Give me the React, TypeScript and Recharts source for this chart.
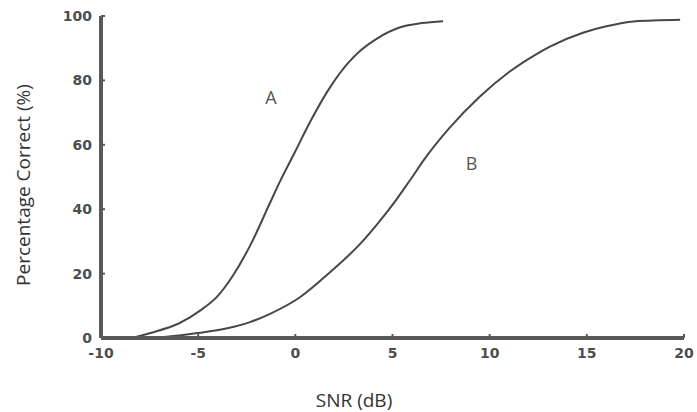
import React from 'react';
import { LineChart, Line, XAxis, YAxis, ReferenceDot } from 'recharts';

// Psychometric curves: percentage correct vs signal-to-noise ratio
const snrA = [-8.4, -7.5, -6, -4.9, -4, -3.2, -2.3, -1.3, -0.8, 0, 0.75, 1.8, 2.8, 3.3, 4.2, 5.4, 6.5, 7.6];
const pctA = [0, 1.5, 4.5, 8.5, 13, 19.5, 29, 42, 48.5, 58, 67, 78, 86, 89, 93, 96.5, 97.8, 98.4];

const snrB = [-7.5, -6, -4.9, -3.5, -2.3, -1.3, 0.2, 1.8, 3.3, 4.3, 5.2, 5.9, 6.7, 7.9, 9.5, 11, 12.5, 13.1, 14.8, 16, 17.4, 19.8];
const pctB = [0, 0.8, 1.6, 3, 5, 7.5, 12.5, 20.5, 29, 36, 43, 49, 56, 65, 75, 82.6, 88.5, 90.5, 94.8, 96.8, 98.3, 98.8];

const xTicks = [-10, -5, 0, 5, 10, 15, 20];
const yTicks = [0, 20, 40, 60, 80, 100];

// Curve name labels and where they sit (SNR, percent)
const curveNames = ['A', 'B'];
const nameSnr = [-1.26, 9.07];
const namePct = [74.8, 54.3];

const dataA = snrA.map((snr, i) => ({ snr, pct: pctA[i] }));
const dataB = snrB.map((snr, i) => ({ snr, pct: pctB[i] }));

const axisColor = '#595959';
const tickStyle = { fill: '#4d4d4d', fontFamily: '"DejaVu Sans", sans-serif', fontWeight: 700, fontSize: 14 };
const titleFont = '"Open Sans", sans-serif';

export default function App() {
  return (
    <div style={{ position: 'absolute', left: 0, top: 0, width: 697, height: 412, background: '#fff' }}>
      <LineChart width={697} height={412} margin={{ top: 16, right: 13, bottom: 0, left: 0 }}>
        <XAxis
          dataKey="snr"
          type="number"
          domain={[-10, 20]}
          ticks={xTicks}
          allowDataOverflow
          axisLine={{ stroke: axisColor, strokeWidth: 4 }}
          tickLine={{ stroke: axisColor, strokeWidth: 2 }}
          tickSize={-4}
          tickMargin={14}
          tick={tickStyle}
          height={74}
        />
        <YAxis
          dataKey="pct"
          type="number"
          domain={[0, 100]}
          ticks={yTicks}
          axisLine={{ stroke: axisColor, strokeWidth: 4 }}
          tickLine={{ stroke: axisColor, strokeWidth: 2 }}
          tickSize={-4}
          tickMargin={13}
          tick={tickStyle}
          width={101}
        />
        <Line
          data={dataA}
          dataKey="pct"
          type="monotone"
          stroke="#474747"
          strokeWidth={2}
          dot={false}
          isAnimationActive={false}
        />
        <Line
          data={dataB}
          dataKey="pct"
          type="monotone"
          stroke="#474747"
          strokeWidth={2}
          dot={false}
          isAnimationActive={false}
        />
        {curveNames.map((name, i) => (
          <ReferenceDot
            key={name}
            x={nameSnr[i]}
            y={namePct[i]}
            r={0}
            stroke="none"
            label={{ value: name, position: 'center', fill: '#555', fontFamily: titleFont, fontSize: 18 }}
          />
        ))}
      </LineChart>
      <svg
        width={697}
        height={412}
        style={{ position: 'absolute', left: 0, top: 0, pointerEvents: 'none' }}
      >
        <text
          x={354}
          y={400}
          textAnchor="middle"
          dominantBaseline="central"
          fill="#333"
          fontFamily={titleFont}
          fontSize={19}
        >
          SNR (dB)
        </text>
        <text
          x={23}
          y={185}
          textAnchor="middle"
          dominantBaseline="central"
          fill="#333"
          fontFamily={titleFont}
          fontSize={19}
          transform="rotate(-90 23 185)"
        >
          Percentage Correct (%)
        </text>
      </svg>
    </div>
  );
}
